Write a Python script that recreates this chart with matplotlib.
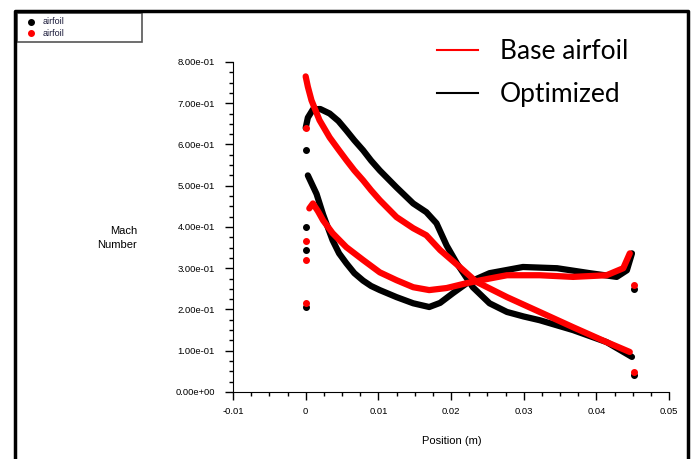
import matplotlib.pyplot as plt
from matplotlib.lines import Line2D
from matplotlib.patches import Rectangle
from matplotlib.ticker import MultipleLocator

# Optimized airfoil (black): upper and lower surface
opt_upper_x = [0.0000, 0.0003, 0.0010, 0.0020, 0.0033, 0.0045, 0.0056, 0.0067, 0.0079,
               0.0090, 0.0102, 0.0125, 0.0148, 0.0166, 0.0180, 0.0194, 0.0208, 0.0230,
               0.0253, 0.0277, 0.0300, 0.0322, 0.0368, 0.0414, 0.0449]
opt_upper_y = [0.640, 0.665, 0.685, 0.686, 0.675, 0.657, 0.634, 0.610, 0.586,
               0.561, 0.537, 0.496, 0.457, 0.436, 0.409, 0.355, 0.312, 0.254,
               0.215, 0.194, 0.183, 0.174, 0.150, 0.121, 0.085]
opt_lower_x = [0.0003, 0.0015, 0.0024, 0.0037, 0.0046, 0.0056, 0.0067, 0.0079, 0.0090,
               0.0102, 0.0125, 0.0148, 0.0170, 0.0185, 0.0203, 0.0222, 0.0253, 0.0299,
               0.0346, 0.0391, 0.0428, 0.0442, 0.0449]
opt_lower_y = [0.525, 0.480, 0.430, 0.368, 0.336, 0.312, 0.288, 0.270, 0.257,
               0.247, 0.230, 0.215, 0.206, 0.216, 0.240, 0.264, 0.288, 0.303,
               0.300, 0.288, 0.279, 0.295, 0.336]
opt_pts_x = [0.0000, 0.0000, 0.0000, 0.0000, 0.0452, 0.0452]
opt_pts_y = [0.586, 0.400, 0.345, 0.205, 0.250, 0.040]

# Base airfoil (red)
base_upper_x = [0.0000, 0.0003, 0.0008, 0.0019, 0.0033, 0.0045, 0.0056, 0.0067, 0.0079,
                0.0090, 0.0102, 0.0125, 0.0148, 0.0166, 0.0185, 0.0212, 0.0235, 0.0277,
                0.0322, 0.0368, 0.0414, 0.0446]
base_upper_y = [0.765, 0.740, 0.707, 0.659, 0.617, 0.588, 0.562, 0.537, 0.513,
                0.489, 0.465, 0.424, 0.397, 0.380, 0.344, 0.303, 0.267, 0.230,
                0.194, 0.157, 0.121, 0.097]
base_lower_x = [0.0005, 0.0010, 0.0017, 0.0024, 0.0037, 0.0056, 0.0079, 0.0102, 0.0125,
                0.0148, 0.0170, 0.0194, 0.0222, 0.0253, 0.0277, 0.0322, 0.0368, 0.0414,
                0.0437, 0.0446]
base_lower_y = [0.445, 0.457, 0.438, 0.416, 0.385, 0.351, 0.320, 0.290, 0.271,
                0.254, 0.247, 0.252, 0.264, 0.275, 0.283, 0.283, 0.279, 0.283,
                0.300, 0.336]
base_pts_x = [0.0000, 0.0000, 0.0000, 0.0000, 0.0452, 0.0452]
base_pts_y = [0.640, 0.365, 0.320, 0.215, 0.259, 0.048]

x_ticks = [-0.01, 0.0, 0.01, 0.02, 0.03, 0.04, 0.05]
x_labels = ['-0.01', '0', '0.01', '0.02', '0.03', '0.04', '0.05']
y_ticks = [0.0, 0.1, 0.2, 0.3, 0.4, 0.5, 0.6, 0.7, 0.8]
y_labels = ['0.00e+00', '1.00e-01', '2.00e-01', '3.00e-01', '4.00e-01',
            '5.00e-01', '6.00e-01', '7.00e-01', '8.00e-01']

fig = plt.figure(figsize=(6.92, 4.59), dpi=100)
ax = fig.add_axes([0.3367, 0.146, 0.6301, 0.719])

lw = 4.5
ax.plot(opt_upper_x, opt_upper_y, color='black', lw=lw, solid_capstyle='round')
ax.plot(opt_lower_x, opt_lower_y, color='black', lw=lw, solid_capstyle='round')
ax.plot(opt_pts_x, opt_pts_y, 'o', color='black', ms=4)
ax.plot(base_upper_x, base_upper_y, color='red', lw=lw, solid_capstyle='round')
ax.plot(base_lower_x, base_lower_y, color='red', lw=lw, solid_capstyle='round')
ax.plot(base_pts_x, base_pts_y, 'o', color='red', ms=4)

ax.set_xlim(-0.01, 0.05)
ax.set_ylim(0, 0.8)
for s in ['top', 'right']:
    ax.spines[s].set_visible(False)
ax.set_xticks(x_ticks)
ax.set_xticklabels(x_labels, family='Liberation Sans', fontsize=6.8)
ax.set_yticks(y_ticks)
ax.set_yticklabels(y_labels, family='Liberation Sans', fontsize=6.8)
ax.xaxis.set_minor_locator(MultipleLocator(0.0025))
ax.yaxis.set_minor_locator(MultipleLocator(0.025))
ax.tick_params(which='major', length=6, width=1)
ax.tick_params(which='minor', length=3, width=1)
ax.tick_params(axis='x', which='major', pad=5)
ax.tick_params(axis='y', which='major', pad=7)

fig.text(452 / 692, 1 - 441 / 459, 'Position (m)', ha='center', va='center',
         family='Liberation Sans', fontsize=8)
fig.text(137 / 692, 1 - 238 / 459, 'Mach\nNumber', ha='right', va='center',
         family='Liberation Sans', fontsize=8, linespacing=1.55, multialignment='right')

# top-right legend
leg_handles = [Line2D([], [], color='red', lw=1.5), Line2D([], [], color='black', lw=1.5)]
fig.legend(leg_handles, ['Base airfoil', 'Optimized'], loc='upper left',
           bbox_to_anchor=(413 / 692, 1 - 15 / 459), frameon=False,
           prop={'family': 'Lato', 'size': 19}, handlelength=1.55,
           handletextpad=0.83, labelspacing=0.69)

# small legend box in top-left
fig.patches.append(Rectangle((17 / 692, 1 - 42 / 459), 125 / 692, 29 / 459,
                             transform=fig.transFigure, fill=False, ec='#555555', lw=1.2))
for yy, c in [(22, 'black'), (33, 'red')]:
    fig.lines.append(Line2D([31 / 692], [1 - yy / 459], marker='o', ms=4, color=c,
                            transform=fig.transFigure))
    fig.text(43 / 692, 1 - yy / 459, 'airfoil', va='center', fontsize=6.5,
             family='Liberation Sans', color='#1a1a3a')

# outer frame
fig.lines.append(Line2D([15 / 692, 15 / 692, 688 / 692, 688 / 692],
                        [0, 1 - 11 / 459, 1 - 11 / 459, 0],
                        transform=fig.transFigure, color='black', lw=2.5))

fig.savefig('out.png', dpi=100)
